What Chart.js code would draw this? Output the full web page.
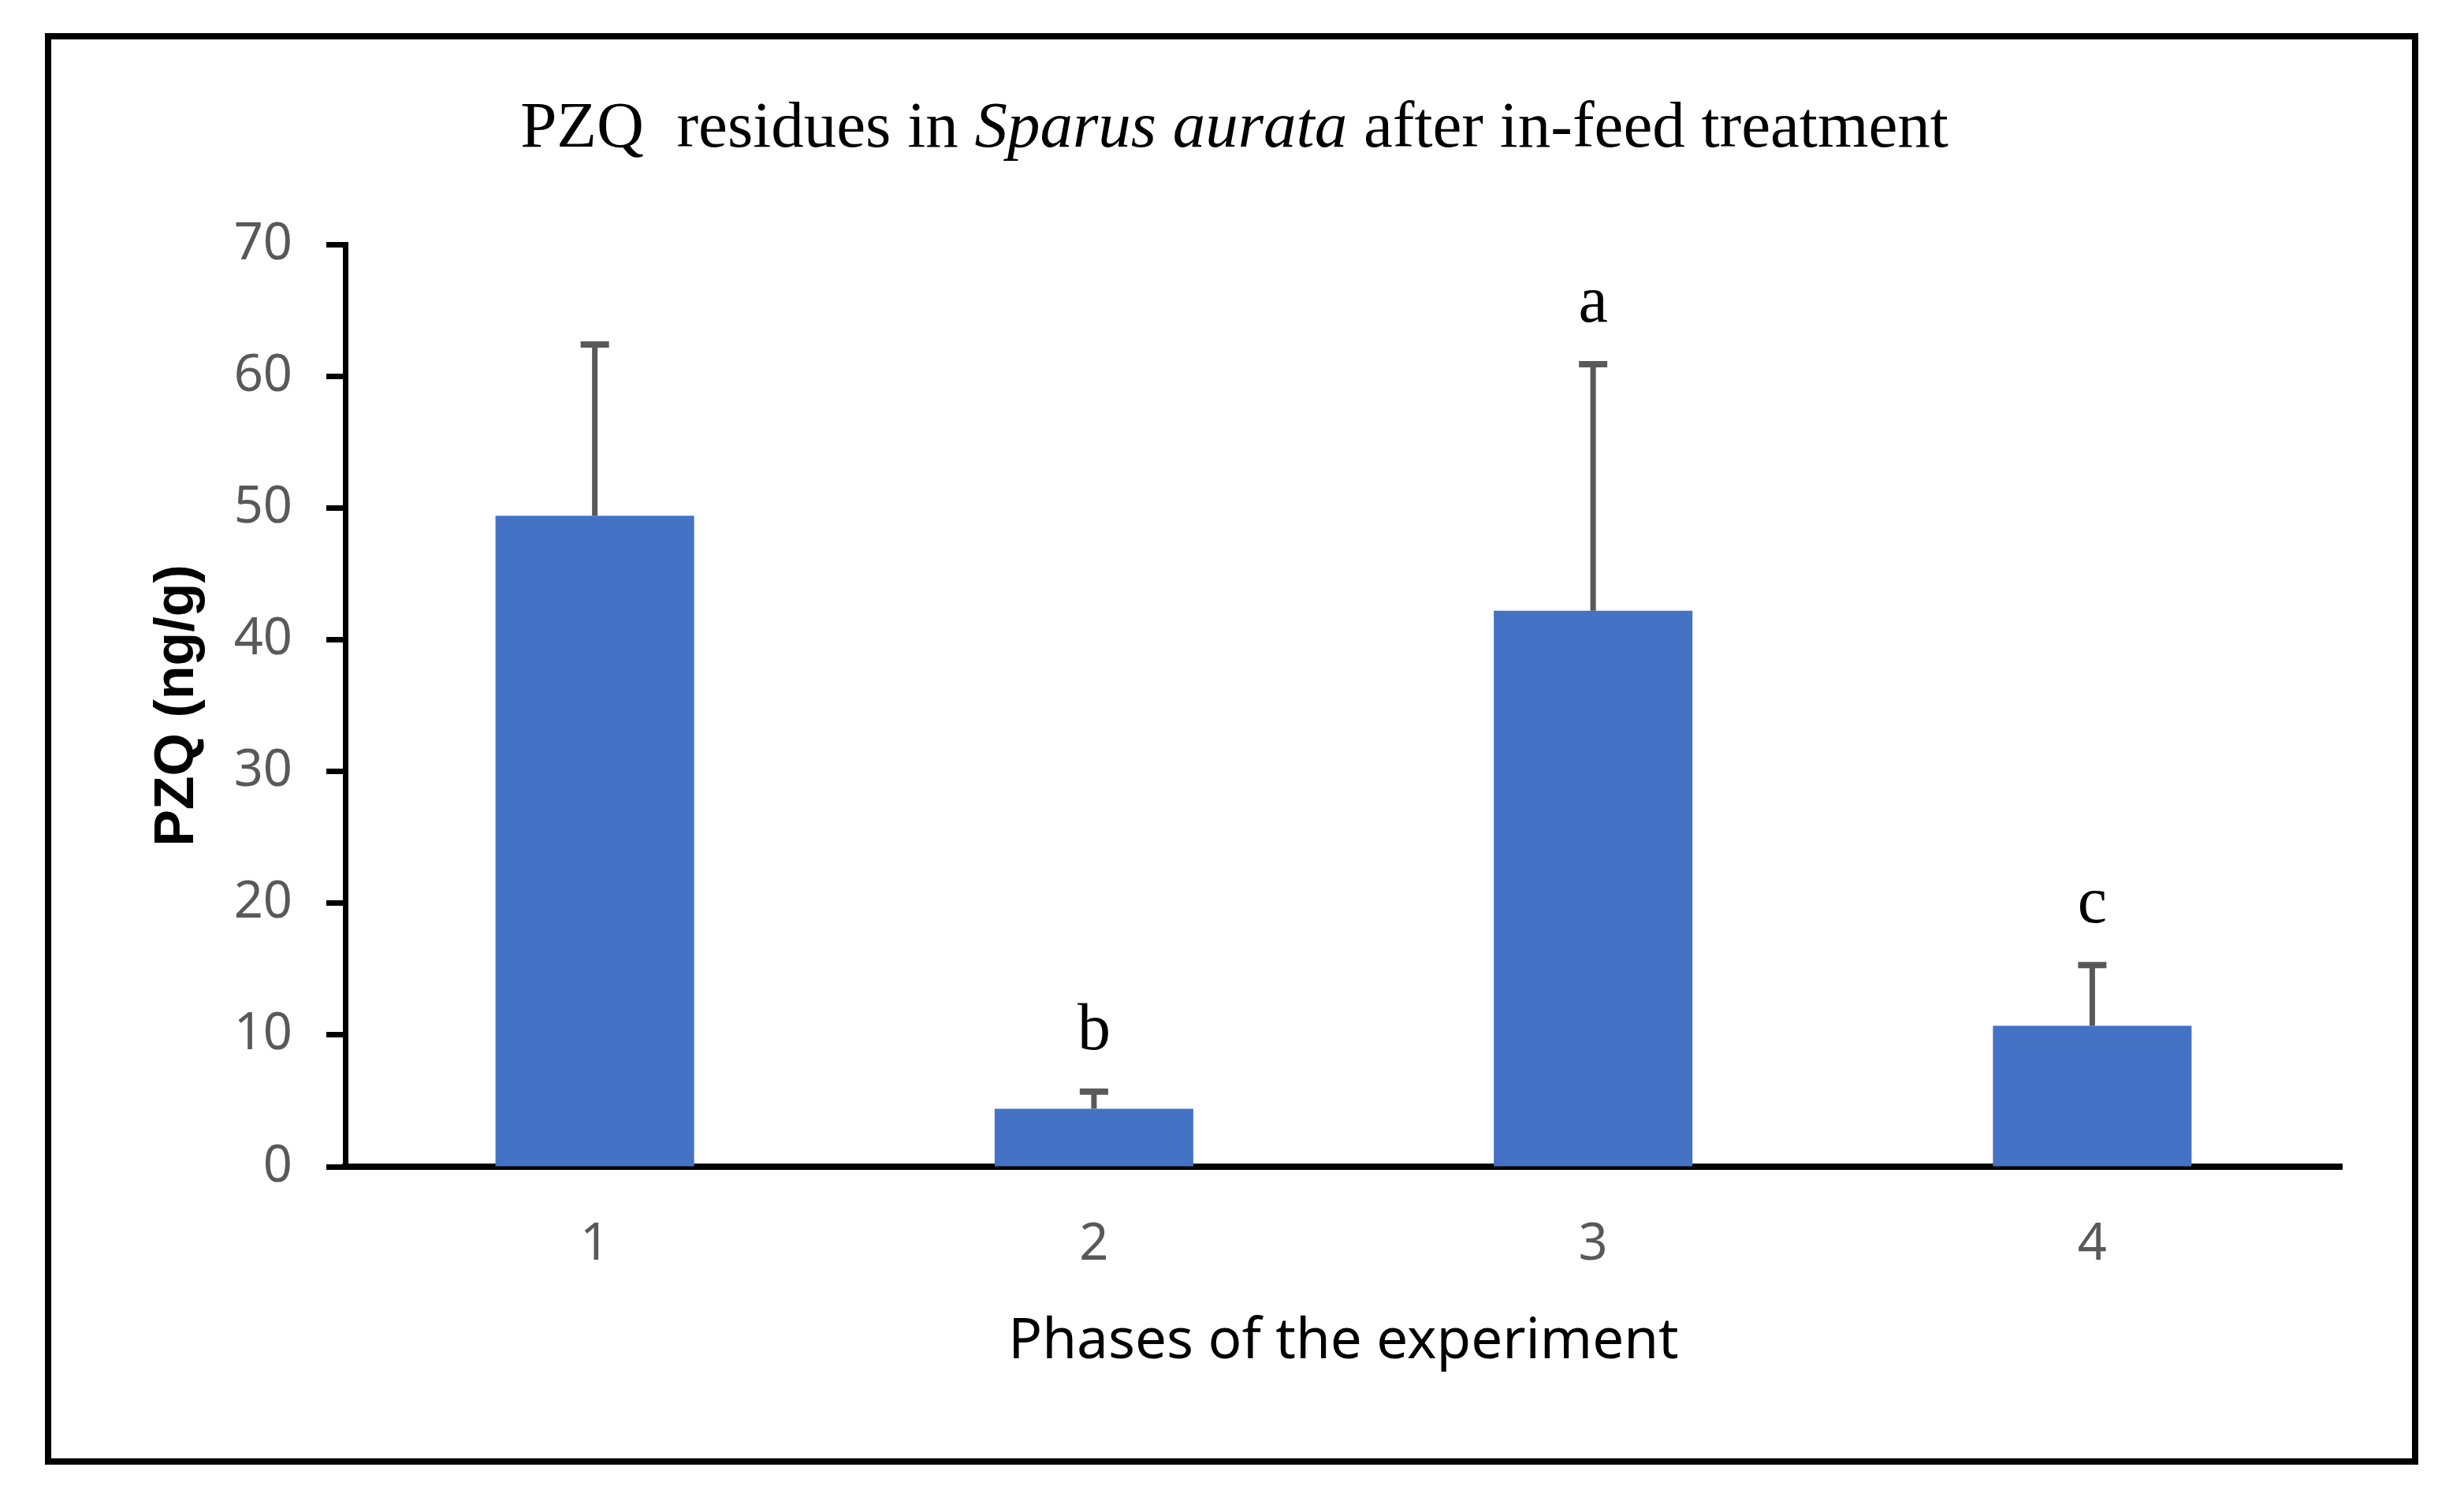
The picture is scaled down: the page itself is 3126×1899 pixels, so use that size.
<!DOCTYPE html>
<html>
<head>
<meta charset="utf-8">
<script src="https://cdn.jsdelivr.net/npm/chart.js@4.4.1/dist/chart.umd.min.js"></script>
<style>
html, body { margin: 0; padding: 0; background: #fff; }
#wrap { width: 3126px; height: 1899px; position: relative; }
</style>
</head>
<body>
<div id="wrap"><canvas id="pzqChart"></canvas></div>
<script>
// PZQ residues per experiment phase (ng/g)
var phases = ['1', '2', '3', '4'];
var pzqMeans = [49.4, 4.4, 42.2, 10.7];
var pzqErrors = [13.0, 1.3, 18.7, 4.6];
var sigLetters = ['', 'b', 'a', 'c'];
var yTicks = [0, 10, 20, 30, 40, 50, 60, 70];

// frame round the figure + title with italic species name
var frameAndTitle = {
    id: 'frameAndTitle',
    afterDraw: function(chart) {
        var ctx = chart.ctx;
        ctx.save();
        ctx.strokeStyle = '#000';
        ctx.lineWidth = 8;
        ctx.strokeRect(61, 46, 3003, 1808);

        var parts = [
            { text: 'PZQ  residues in ', font: '83px "Liberation Serif"' },
            { text: 'Sparus aurata', font: 'italic 83px "Liberation Serif"' },
            { text: ' after in-feed treatment', font: '83px "Liberation Serif"' }
        ];
        var total = 0;
        parts.forEach(function(p) {
            ctx.font = p.font;
            p.w = ctx.measureText(p.text).width;
            total += p.w;
        });
        var x = 1566 - total / 2;
        ctx.fillStyle = '#000';
        ctx.textBaseline = 'alphabetic';
        ctx.textAlign = 'left';
        parts.forEach(function(p) {
            ctx.font = p.font;
            ctx.fillText(p.text, x, 186);
            x += p.w;
        });
        ctx.restore();
    }
};

// error bars (upper only) and significance letters
var errorBars = {
    id: 'errorBars',
    afterDatasetsDraw: function(chart) {
        var ctx = chart.ctx;
        var meta = chart.getDatasetMeta(0);
        var yScale = chart.scales.y;
        ctx.save();
        ctx.strokeStyle = '#595959';
        meta.data.forEach(function(bar, i) {
            var yTop = yScale.getPixelForValue(pzqMeans[i] + pzqErrors[i]);
            ctx.lineWidth = 7;
            ctx.beginPath();
            ctx.moveTo(bar.x, bar.y);
            ctx.lineTo(bar.x, yTop);
            ctx.stroke();
            ctx.lineWidth = 8;
            ctx.beginPath();
            ctx.moveTo(bar.x - 18, yTop);
            ctx.lineTo(bar.x + 18, yTop);
            ctx.stroke();

            if (sigLetters[i]) {
                ctx.fillStyle = '#000';
                ctx.font = '84px "Liberation Serif"';
                ctx.textAlign = 'center';
                ctx.textBaseline = 'alphabetic';
                ctx.fillText(sigLetters[i], bar.x, yTop - 54);
            }
        });
        ctx.restore();
    }
};

var ctx = document.getElementById('pzqChart').getContext('2d');
var pzqChart = new Chart(ctx, {
    type: 'bar',
    data: {
        labels: phases,
        datasets: [{
            label: 'PZQ (ng/g)',
            data: pzqMeans,
            backgroundColor: '#4472C4',
            borderWidth: 0,
            barPercentage: 0.398,
            categoryPercentage: 1.0
        }]
    },
    options: {
        responsive: true,
        maintainAspectRatio: false,
        devicePixelRatio: 1,
        animation: false,
        layout: { padding: { top: 310, right: 155, left: 0, bottom: 0 } },
        plugins: {
            legend: { display: false },
            tooltip: { enabled: false },
            title: { display: false }
        },
        scales: {
            x: {
                afterFit: function(s) { s.height = 419; },
                border: { display: true, color: '#000', width: 8 },
                grid: { display: true, drawOnChartArea: false, drawTicks: false },
                ticks: {
                    color: '#595959',
                    font: { family: 'Noto Sans', size: 65 },
                    padding: 60
                },
                title: {
                    display: true,
                    text: 'Phases of the experiment',
                    color: '#000',
                    font: { family: 'Noto Sans', size: 71 },
                    padding: { top: 0, bottom: 154 }
                }
            },
            y: {
                min: 0,
                max: 70,
                afterFit: function(s) { s.width = 438; },
                afterBuildTicks: function(s) {
                    s.ticks = yTicks.map(function(v) { return { value: v }; });
                },
                border: { display: true, color: '#000', width: 7 },
                grid: {
                    drawOnChartArea: false,
                    drawTicks: true,
                    tickLength: 24,
                    tickColor: '#000',
                    tickWidth: 7
                },
                ticks: {
                    color: '#595959',
                    font: { family: 'Noto Sans', size: 65 },
                    padding: 43
                },
                title: {
                    display: true,
                    text: 'PZQ (ng/g)',
                    color: '#000',
                    font: { family: 'Liberation Sans', size: 70, weight: 'bold' },
                    padding: { top: 184, bottom: 0 }
                }
            }
        }
    },
    plugins: [frameAndTitle, errorBars]
});
</script>
</body>
</html>
